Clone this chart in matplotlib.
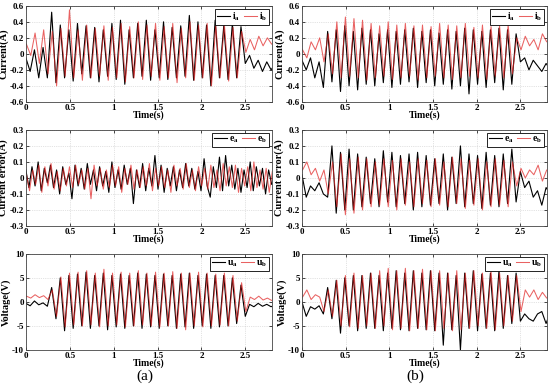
import numpy as np
import matplotlib
matplotlib.use("Agg")
import matplotlib.pyplot as plt

plt.rcParams['font.family'] = ['Liberation Serif', 'DejaVu Serif']
plt.rcParams['font.weight'] = 'bold'
plt.rcParams['mathtext.fontset'] = 'custom'
plt.rcParams['mathtext.bf'] = 'Liberation Serif:bold'
plt.rcParams['mathtext.rm'] = 'Liberation Serif:bold'

# sample spacing of the read-off extrema (s)
dt_osc = 0.049
dt_err_a = 0.035
red_shift = 0.007

# (a) current
cur_a_black = [-0.05, -0.22, 0.05, -0.30, 0.08, -0.30, 0.52, -0.36, 0.36, -0.30,
               0.30, -0.34, 0.38, -0.25, 0.35, -0.30, 0.33, -0.35, 0.30, -0.28,
               0.38, -0.32, 0.42, -0.38, 0.30, -0.30, 0.38, -0.28, 0.42, -0.33,
               0.30, -0.30, 0.40, -0.32, 0.33, -0.30, 0.35, -0.28, 0.48, -0.33,
               0.40, -0.30, 0.36, -0.40, 0.42, -0.30, 0.35, -0.32, 0.38, -0.30,
               0.34, -0.12, -0.02, -0.18, -0.08, -0.22, -0.10, -0.20, -0.12]
cur_a_red = [0.12, -0.02, 0.26, -0.12, 0.30, -0.25, 0.28, -0.40, 0.32, -0.28,
             0.55, -0.30, 0.30, -0.33, 0.36, -0.30, 0.32, -0.28, 0.35, -0.33,
             0.33, -0.30, 0.38, -0.35, 0.34, -0.30, 0.40, -0.32, 0.36, -0.28,
             0.38, -0.33, 0.34, -0.30, 0.38, -0.36, 0.32, -0.30, 0.40, -0.33,
             0.36, -0.30, 0.38, -0.40, 0.35, -0.30, 0.37, -0.34, 0.33, -0.30,
             0.28, 0.02, 0.18, 0.05, 0.22, 0.10, 0.20, 0.12, 0.18]

# (b) current
cur_b_black = [-0.08, -0.20, -0.05, -0.30, -0.10, -0.42, 0.28, -0.35, 0.30, -0.47,
               0.35, -0.40, 0.28, -0.45, 0.32, -0.38, 0.30, -0.40, 0.25, -0.36,
               0.30, -0.42, 0.28, -0.38, 0.30, -0.35, 0.32, -0.42, 0.28, -0.36,
               0.30, -0.40, 0.26, -0.38, 0.30, -0.44, 0.28, -0.40, 0.32, -0.50,
               0.30, -0.38, 0.28, -0.42, 0.30, -0.36, 0.32, -0.45, 0.30, -0.38,
               0.25, -0.10, -0.05, -0.20, -0.08, -0.15, -0.22, -0.12, -0.20]
cur_b_red = [0.05, -0.05, 0.15, 0.05, 0.20, -0.10, 0.25, -0.25, 0.40, -0.30,
             0.46, -0.28, 0.44, -0.30, 0.42, -0.33, 0.38, -0.30, 0.35, -0.28,
             0.40, -0.32, 0.36, -0.30, 0.38, -0.28, 0.35, -0.33, 0.36, -0.30,
             0.34, -0.28, 0.38, -0.30, 0.36, -0.32, 0.35, -0.30, 0.38, -0.28,
             0.33, -0.30, 0.36, -0.32, 0.34, -0.28, 0.35, -0.30, 0.36, -0.25,
             0.20, 0.05, 0.22, 0.10, 0.18, 0.05, 0.25, 0.15, 0.20]

# (a) current error
err_a_black = [0.05, -0.06, 0.07, -0.05, 0.10, -0.08, 0.06, -0.03, 0.08, -0.06,
               0.05, -0.10, 0.07, -0.04, 0.03, -0.13, 0.08, -0.05, 0.06, -0.07,
               0.09, -0.04, 0.05, -0.08, 0.07, -0.05, 0.04, -0.09, 0.10, -0.06,
               0.05, -0.07, 0.08, -0.04, 0.06, -0.16, 0.05, -0.06, 0.09, -0.08,
               0.06, -0.05, 0.14, -0.07, 0.08, -0.09, 0.06, -0.05, 0.07, -0.08,
               0.05, -0.06, 0.09, -0.05, 0.06, -0.07, 0.04, -0.08, 0.12, -0.05,
               -0.12, 0.07, -0.06, 0.13, -0.08, 0.14, -0.05, 0.08, -0.07, 0.06,
               -0.09, 0.05, -0.06, 0.10, -0.08, 0.07, -0.05, 0.06, -0.10, 0.05, -0.04]
err_a_red = [0.02, -0.08, 0.05, -0.04, 0.08, -0.09, 0.07, -0.05, 0.09, -0.07,
             0.04, -0.08, 0.06, -0.05, 0.07, -0.06, 0.08, -0.04, 0.05, -0.07,
             0.06, -0.13, 0.08, -0.05, 0.06, -0.07, 0.05, -0.06, 0.08, -0.05,
             0.07, -0.09, 0.06, -0.04, 0.08, -0.07, 0.05, -0.06, 0.07, -0.05,
             0.09, -0.08, 0.06, -0.05, 0.07, -0.06, 0.05, -0.09, 0.08, -0.05,
             0.06, -0.07, 0.09, -0.06, 0.05, -0.08, 0.07, -0.05, 0.06, -0.07,
             0.08, -0.06, 0.05, -0.08, 0.09, -0.05, 0.07, -0.06, 0.08, -0.09,
             0.06, -0.05, 0.07, -0.08, 0.10, -0.06, 0.05, -0.07, 0.06, -0.09, 0.04]

# (b) current error
err_b_black = [0.02, -0.12, -0.05, -0.08, -0.03, -0.10, -0.12, 0.20, -0.22, 0.16,
               -0.20, 0.18, -0.20, 0.15, -0.18, 0.13, -0.16, 0.12, -0.18, 0.17,
               -0.15, 0.16, -0.18, 0.14, -0.16, 0.15, -0.20, 0.16, -0.18, 0.14,
               -0.17, 0.12, -0.16, 0.15, -0.20, 0.13, -0.16, 0.20, -0.18, 0.15,
               -0.16, 0.14, -0.19, 0.16, -0.17, 0.14, -0.18, 0.15, -0.16, 0.18,
               -0.15, 0.04, -0.06, -0.02, -0.12, -0.08, -0.17, -0.06, -0.10]
err_b_red = [0.05, 0.10, 0.02, 0.06, -0.02, 0.05, -0.10, 0.10, -0.18, 0.15,
             -0.23, 0.12, -0.22, 0.13, -0.20, 0.12, -0.18, 0.10, -0.17, 0.12,
             -0.18, 0.11, -0.20, 0.12, -0.17, 0.10, -0.18, 0.12, -0.16, 0.11,
             -0.18, 0.12, -0.17, 0.10, -0.18, 0.13, -0.16, 0.12, -0.19, 0.11,
             -0.17, 0.12, -0.20, 0.10, -0.18, 0.12, -0.17, 0.11, -0.18, 0.10,
             -0.05, 0.06, 0.00, 0.05, 0.02, 0.08, -0.02, 0.05, 0.03]

# (a) voltage
vol_a_black = [-0.3, -0.8, 0.2, -0.6, -0.2, -0.9, 3.0, -3.5, 5.0, -6.0,
               5.5, -5.5, 5.8, -5.0, 6.2, -5.5, 5.5, -5.0, 6.0, -5.8,
               5.5, -5.2, 5.8, -5.5, 5.5, -5.0, 6.0, -5.5, 5.8, -5.2,
               5.5, -5.5, 5.8, -5.0, 5.5, -5.5, 5.8, -5.2, 6.0, -5.5,
               5.5, -5.0, 5.8, -5.5, 5.5, -5.2, 5.5, -5.0, 5.0, -4.5,
               3.5, -3.0, -0.5, -1.0, -0.3, -0.9, -0.5, -1.0, -0.6]
vol_a_red = [1.2, 0.8, 1.5, 0.9, 1.3, 0.5, 2.5, -3.0, 5.2, -5.2,
             6.0, -4.8, 6.2, -5.0, 6.5, -4.8, 6.0, -5.2, 6.8, -5.0,
             6.0, -4.8, 6.2, -5.2, 6.0, -5.0, 6.5, -4.8, 6.0, -5.0,
             6.2, -5.2, 6.0, -5.0, 6.3, -5.5, 6.0, -5.8, 6.0, -5.0,
             6.2, -5.2, 6.0, -5.0, 5.8, -4.8, 6.0, -5.0, 5.5, -4.0,
             4.0, -2.0, 1.0, 0.5, 1.2, 0.4, 0.8, 0.3, 0.9]

# (b) voltage
vol_b_black = [0.0, -3.0, -1.0, -1.5, -0.8, -2.5, 3.0, -3.5, 4.5, -6.5,
               5.0, -5.0, 5.5, -6.0, 5.5, -5.5, 6.0, -5.5, 5.5, -6.0,
               6.0, -5.5, 6.5, -5.8, 6.0, -6.0, 6.5, -5.5, 6.0, -5.8,
               6.5, -6.0, 6.0, -9.0, 6.0, -5.8, 5.5, -10.0, 6.0, -5.5,
               6.5, -6.0, 5.8, -5.5, 6.0, -6.0, 6.5, -5.5, 5.5, -4.5,
               6.0, -4.0, -2.5, -3.5, -4.0, -2.5, -2.0, -4.5, -2.0]
vol_b_red = [1.0, 2.5, 0.5, 1.5, 1.0, -2.0, 2.5, -3.0, 4.5, -5.0,
             5.5, -5.2, 6.0, -5.5, 5.5, -5.0, 6.0, -5.5, 6.5, -5.0,
             7.0, -5.8, 6.5, -5.5, 7.0, -6.0, 6.5, -5.5, 6.8, -5.8,
             6.5, -6.0, 6.5, -5.5, 6.0, -6.0, 6.5, -5.8, 6.0, -5.5,
             6.5, -5.0, 6.0, -5.5, 6.5, -5.8, 6.0, -5.0, 5.5, -4.0,
             5.5, -2.0, 2.5, 1.0, 2.5, 0.5, 2.0, 0.8, 1.5]

xticks = [0, 0.5, 1, 1.5, 2, 2.5]
xtick_labels = ['0', '0.5', '1', '1.5', '2', '2.5']

panels = [
    # (col, row, black, red, dt, ylabel, names, yticks)
    (0, 0, cur_a_black, cur_a_red, dt_osc, 'Current(A)', ('i', 'i'), [-0.6, -0.4, -0.2, 0, 0.2, 0.4, 0.6]),
    (1, 0, cur_b_black, cur_b_red, dt_osc, 'Current(A)', ('i', 'i'), [-0.6, -0.4, -0.2, 0, 0.2, 0.4, 0.6]),
    (0, 1, err_a_black, err_a_red, dt_err_a, 'Current error(A)', ('e', 'e'), [-0.3, -0.2, -0.1, 0, 0.1, 0.2, 0.3]),
    (1, 1, err_b_black, err_b_red, dt_osc, 'Current error(A)', ('e', 'e'), [-0.3, -0.2, -0.1, 0, 0.1, 0.2, 0.3]),
    (0, 2, vol_a_black, vol_a_red, dt_osc, 'Voltage(V)', ('u', 'u'), [-10, -5, 0, 5, 10]),
    (1, 2, vol_b_black, vol_b_red, dt_osc, 'Voltage(V)', ('u', 'u'), [-10, -5, 0, 5, 10]),
]

fig = plt.figure(figsize=(5.5, 3.86), dpi=100)

col_left = [0.047, 0.549]
col_width = [0.447, 0.445]
row_bottom = [0.736, 0.4145, 0.0933]
row_height = 0.249

for col, row, black, red, dt, ylabel, names, yticks in panels:
    ax = fig.add_axes([col_left[col], row_bottom[row], col_width[col], row_height])
    tb = np.arange(len(black)) * dt
    tr = np.arange(len(red)) * dt + red_shift
    ax.plot(tb, black, color='black', lw=0.8, label=r'$\mathbf{%s_a}$' % names[0])
    ax.plot(tr, red, color='#e02020', lw=0.75, alpha=0.7, label=r'$\mathbf{%s_b}$' % names[1])
    ax.set_xlim(0, 2.8)
    ax.set_ylim(yticks[0], yticks[-1])
    ax.set_xticks(xticks)
    ax.set_xticklabels(xtick_labels)
    ax.set_yticks(yticks)
    ax.set_yticklabels([('%g' % v) for v in yticks])
    ax.tick_params(direction='in', top=True, right=True, labelsize=6.5, length=2, width=0.5, pad=1.5)
    ax.grid(True, linestyle=':', color='#c8c8c8', lw=0.5)
    for s in ax.spines.values():
        s.set_linewidth(0.6)
        s.set_color('#444444')
    ax.set_xlabel('Time(s)', fontsize=7, fontweight='bold', labelpad=-1)
    ax.set_ylabel(ylabel, fontsize=7.5, fontweight='bold', labelpad=1)
    leg = ax.legend(loc='upper right', ncol=2, fontsize=7, handlelength=1.3, handletextpad=0.2,
                    columnspacing=0.4, borderpad=0.2, borderaxespad=0.3, fancybox=False,
                    framealpha=1, edgecolor='black')
    leg.get_frame().set_linewidth(0.6)

fig.text(0.264, 0.025, '(a)', fontsize=11, fontweight='normal', ha='center', va='center')
fig.text(0.755, 0.025, '(b)', fontsize=11, fontweight='normal', ha='center', va='center')

fig.savefig('out.png', dpi=100)
